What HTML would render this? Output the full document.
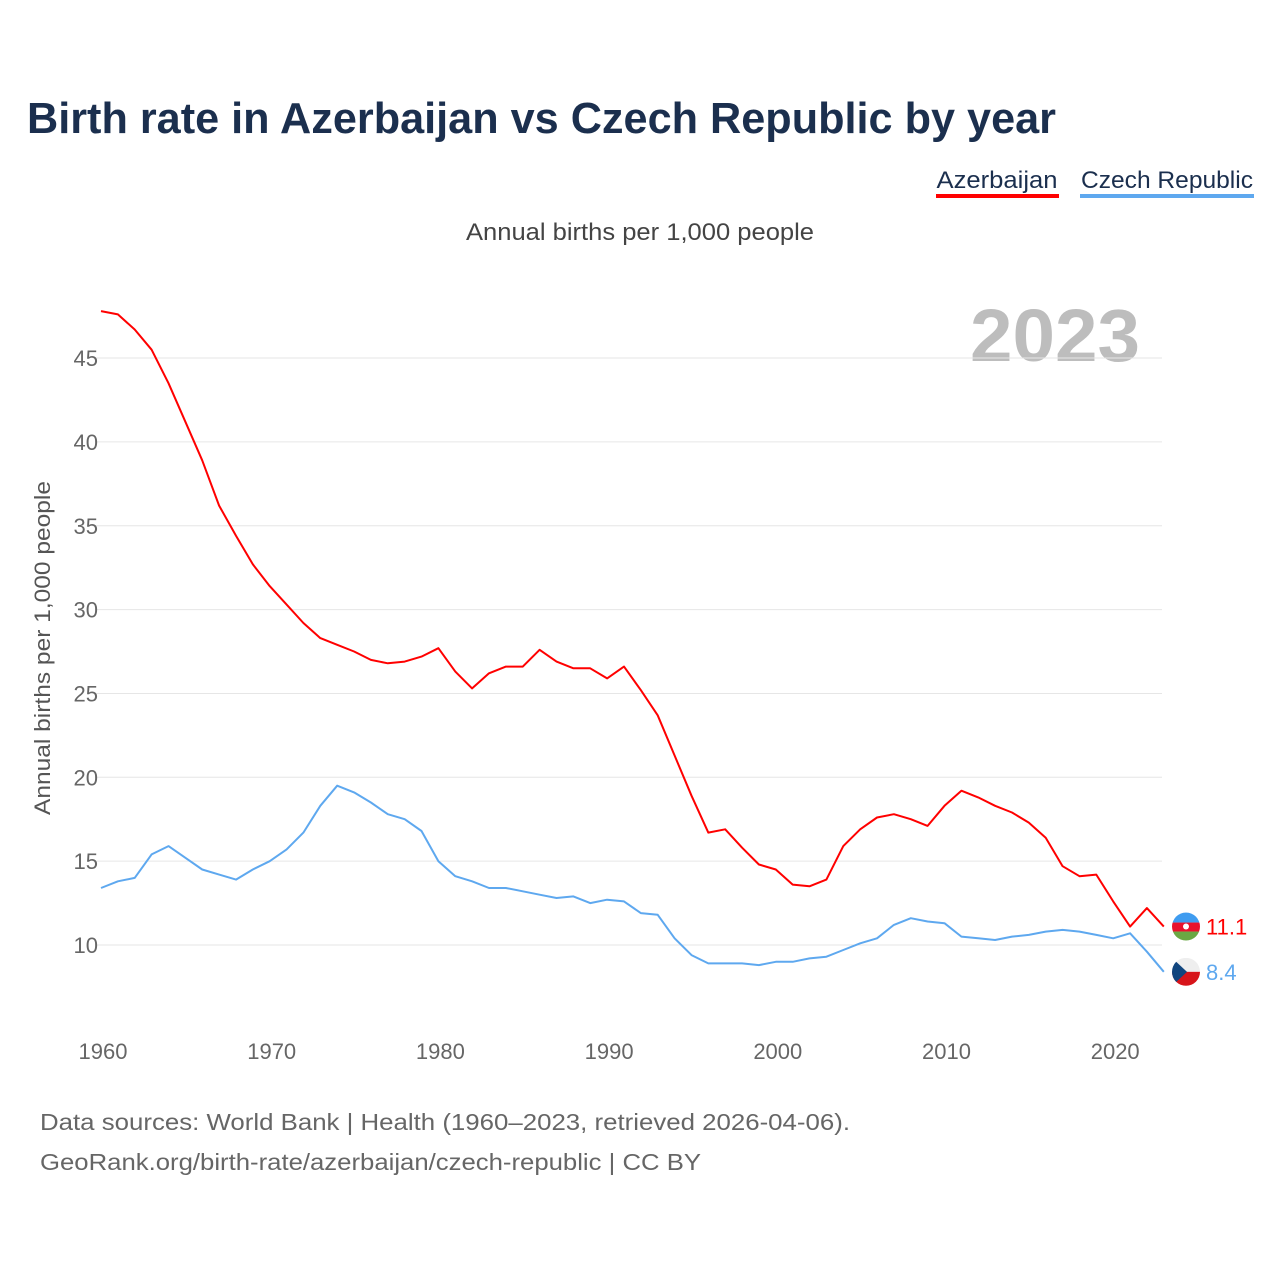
<!DOCTYPE html>
<html><head><meta charset="utf-8"><style>
body{margin:0;background:#fff;font-family:"Liberation Sans",sans-serif;}
svg{display:block}
</style></head><body>
<svg width="1280" height="1280" viewBox="0 0 1280 1280">
<text x="27" y="133" font-size="44" font-weight="bold" fill="#1b2f4e" textLength="1029" lengthAdjust="spacingAndGlyphs">Birth rate in Azerbaijan vs Czech Republic by year</text>
<g>
<g>
<text x="997" y="188" font-size="24" fill="#1b2f4e" text-anchor="middle" textLength="121" lengthAdjust="spacingAndGlyphs">Azerbaijan</text>
<rect x="936" y="194" width="123" height="4" fill="#ff0000"/></g>
<g>
<text x="1167" y="188" font-size="24" fill="#1b2f4e" text-anchor="middle" textLength="172" lengthAdjust="spacingAndGlyphs">Czech Republic</text>
<rect x="1080" y="194" width="174" height="4" fill="#5ea8ef"/></g>
</g>
<text x="640" y="240" font-size="24" fill="#444" text-anchor="middle" textLength="348" lengthAdjust="spacingAndGlyphs">Annual births per 1,000 people</text>
<text x="1140" y="361" font-size="74" font-weight="bold" fill="#bdbdbd" text-anchor="end" textLength="170" lengthAdjust="spacingAndGlyphs">2023</text>
<text transform="translate(50,648) rotate(-90)" font-size="22" fill="#555" text-anchor="middle" textLength="334" lengthAdjust="spacingAndGlyphs">Annual births per 1,000 people</text>
<g id="grid"></g><g id="yt"></g><g id="xt"></g><g id="series"></g>
<text x="40" y="1130" font-size="23" fill="#666" textLength="810" lengthAdjust="spacingAndGlyphs">Data sources: World Bank | Health (1960–2023, retrieved 2026-04-06).</text>
<text x="40" y="1170" font-size="23" fill="#666" textLength="661" lengthAdjust="spacingAndGlyphs">GeoRank.org/birth-rate/azerbaijan/czech-republic | CC BY</text>
</svg>
<script>
const years=[];for(let y=1960;y<=2023;y++)years.push(y);
const azerbaijan=[47.8,47.6,46.7,45.5,43.5,41.2,38.9,36.2,34.4,32.7,31.4,30.3,29.2,28.3,27.9,27.5,27.0,26.8,26.9,27.2,27.7,26.3,25.3,26.2,26.6,26.6,27.6,26.9,26.5,26.5,25.9,26.6,25.2,23.7,21.3,18.9,16.7,16.9,15.8,14.8,14.5,13.6,13.5,13.9,15.9,16.9,17.6,17.8,17.5,17.1,18.3,19.2,18.8,18.3,17.9,17.3,16.4,14.7,14.1,14.2,12.6,11.1,12.2,11.1];
const czech=[13.4,13.8,14.0,15.4,15.9,15.2,14.5,14.2,13.9,14.5,15.0,15.7,16.7,18.3,19.5,19.1,18.5,17.8,17.5,16.8,15.0,14.1,13.8,13.4,13.4,13.2,13.0,12.8,12.9,12.5,12.7,12.6,11.9,11.8,10.4,9.4,8.9,8.9,8.9,8.8,9.0,9.0,9.2,9.3,9.7,10.1,10.4,11.2,11.6,11.4,11.3,10.5,10.4,10.3,10.5,10.6,10.8,10.9,10.8,10.6,10.4,10.7,9.6,8.4];
const yTicks=[10,15,20,25,30,35,40,45];
const xTicks=[1960,1970,1980,1990,2000,2010,2020];
const NS="http://www.w3.org/2000/svg";
const X=y=>101+(y-1960)*16.87;
const Y=v=>1112.7-v*16.77;
function mk(t,a,p){const e=document.createElementNS(NS,t);for(const k in a)e.setAttribute(k,a[k]);p.appendChild(e);return e;}
const grid=document.getElementById('grid'),yt=document.getElementById('yt'),xt=document.getElementById('xt'),ser=document.getElementById('series');
yTicks.forEach(v=>{
 const l=mk('line',{x1:95,x2:1162,y1:Y(v),y2:Y(v),stroke:'#e6e6e6','stroke-width':1},grid);
 
 
 const t=mk('text',{x:98,y:Y(v)+8,'font-size':22,fill:'#666','text-anchor':'end'},yt);t.textContent=v;
 
 
});
xTicks.forEach(v=>{
 const t=mk('text',{x:X(v)+2,y:1059,'font-size':22,fill:'#666','text-anchor':'middle'},xt);t.textContent=v;
 
 
});
function line(vals,color,name){
 const d=vals.map((v,i)=>(i?'L':'M')+X(years[i]).toFixed(1)+','+Y(v).toFixed(1)).join('');
 const p=mk('path',{d:d,fill:'none',stroke:color,'stroke-width':2,'stroke-linejoin':'round'},ser);
 
 
}
line(czech,'#5ea8ef','czech-republic');
line(azerbaijan,'#ff0000','azerbaijan');
function endLabel(vals,color,name,flag){
 const v=vals[vals.length-1],cy=Y(v),cx=1186;
 const g=mk('g',{},ser);
 
 
 const cp=mk('clipPath',{id:'c'+name},g);mk('circle',{cx:cx,cy:cy,r:14},cp);
 const f=mk('g',{'clip-path':'url(#c'+name+')'},g);
 if(flag==='az'){
  mk('rect',{x:cx-14,y:cy-14,width:28,height:10,fill:'#3f9cf0'},f);
  mk('rect',{x:cx-14,y:cy-4,width:28,height:9,fill:'#e8112d'},f);
  mk('rect',{x:cx-14,y:cy+5,width:28,height:10,fill:'#6aa843'},f);
  mk('circle',{cx:cx,cy:cy,r:3,fill:'#fff'},f);
 }else{
  mk('rect',{x:cx-14,y:cy-14,width:28,height:14,fill:'#eee'},f);
  mk('rect',{x:cx-14,y:cy,width:28,height:14,fill:'#d7141a'},f);
  mk('path',{d:`M${cx-14},${cy-14}L${cx+1},${cy}L${cx-14},${cy+14}Z`,fill:'#11457e'},f);
 }
 const t=mk('text',{x:1206,y:cy+8,'font-size':22,fill:color},g);t.textContent=v.toFixed(1);
}
endLabel(azerbaijan,'#ff0000','azerbaijan','az');
endLabel(czech,'#5ea8ef','czech-republic','cz');
</script>
</body></html>
